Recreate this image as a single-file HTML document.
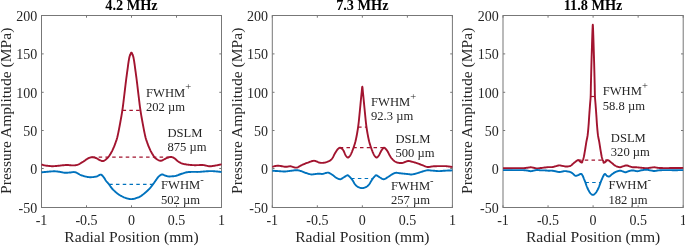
<!DOCTYPE html>
<html><head><meta charset="utf-8"><style>
html,body{margin:0;padding:0;background:#fff;width:685px;height:246px;overflow:hidden}
svg{display:block;will-change:transform}
text{font-family:"Liberation Serif",serif;fill:#262626}
.t{font-size:14px}
.l{font-size:15.6px}
.ti{font-size:14.3px;font-weight:bold;fill:#000}
.a{font-size:12.6px}
.s{font-size:10.5px}
</style></head><body>
<svg width="685" height="246" viewBox="0 0 685 246">
<rect width="685" height="246" fill="#fff"/>
<path d="M41.5,15.5h2.2M221.5,15.5h-2.2M41.5,53.9h2.2M221.5,53.9h-2.2M41.5,92.3h2.2M221.5,92.3h-2.2M41.5,130.5h2.2M221.5,130.5h-2.2M41.5,168.5h2.2M221.5,168.5h-2.2M41.5,207.5h2.2M221.5,207.5h-2.2M41.5,207.5v-2.2M41.5,15.5v2.2M86.5,207.5v-2.2M86.5,15.5v2.2M131.5,207.5v-2.2M131.5,15.5v2.2M176.5,207.5v-2.2M176.5,15.5v2.2M221.5,207.5v-2.2M221.5,15.5v2.2" stroke="#777777" stroke-width="1" fill="none"/>
<rect x="41.5" y="15.5" width="180" height="192" stroke="#777777" stroke-width="1" fill="none"/>
<text x="37.2" y="20.8" text-anchor="end" class="t">200</text>
<text x="37.2" y="59.2" text-anchor="end" class="t">150</text>
<text x="37.2" y="97.6" text-anchor="end" class="t">100</text>
<text x="37.2" y="135.8" text-anchor="end" class="t">50</text>
<text x="37.2" y="173.8" text-anchor="end" class="t">0</text>
<text x="37.2" y="212.8" text-anchor="end" class="t">-50</text>
<text x="41.5" y="225.2" text-anchor="middle" class="t">-1</text>
<text x="86.5" y="225.2" text-anchor="middle" class="t">-0.5</text>
<text x="131.5" y="225.2" text-anchor="middle" class="t">0</text>
<text x="176.5" y="225.2" text-anchor="middle" class="t">0.5</text>
<text x="221.5" y="225.2" text-anchor="middle" class="t">1</text>
<text x="131.5" y="242.3" text-anchor="middle" class="l">Radial Position (mm)</text>
<text transform="translate(10.9,110.8) rotate(-90)" text-anchor="middle" class="l">Pressure Amplitude (MPa)</text>
<text x="131.5" y="9.75" text-anchor="middle" class="ti">4.2 MHz</text>
<path d="M272.3,15.5h2.2M452.4,15.5h-2.2M272.3,53.9h2.2M452.4,53.9h-2.2M272.3,92.3h2.2M452.4,92.3h-2.2M272.3,130.5h2.2M452.4,130.5h-2.2M272.3,168.5h2.2M452.4,168.5h-2.2M272.3,207.5h2.2M452.4,207.5h-2.2M272.3,207.5v-2.2M272.3,15.5v2.2M317.33,207.5v-2.2M317.33,15.5v2.2M362.35,207.5v-2.2M362.35,15.5v2.2M407.38,207.5v-2.2M407.38,15.5v2.2M452.4,207.5v-2.2M452.4,15.5v2.2" stroke="#777777" stroke-width="1" fill="none"/>
<rect x="272.3" y="15.5" width="180.1" height="192" stroke="#777777" stroke-width="1" fill="none"/>
<text x="268" y="20.8" text-anchor="end" class="t">200</text>
<text x="268" y="59.2" text-anchor="end" class="t">150</text>
<text x="268" y="97.6" text-anchor="end" class="t">100</text>
<text x="268" y="135.8" text-anchor="end" class="t">50</text>
<text x="268" y="173.8" text-anchor="end" class="t">0</text>
<text x="268" y="212.8" text-anchor="end" class="t">-50</text>
<text x="272.3" y="225.2" text-anchor="middle" class="t">-1</text>
<text x="317.33" y="225.2" text-anchor="middle" class="t">-0.5</text>
<text x="362.35" y="225.2" text-anchor="middle" class="t">0</text>
<text x="407.38" y="225.2" text-anchor="middle" class="t">0.5</text>
<text x="452.4" y="225.2" text-anchor="middle" class="t">1</text>
<text x="362.35" y="242.3" text-anchor="middle" class="l">Radial Position (mm)</text>
<text transform="translate(241.7,110.8) rotate(-90)" text-anchor="middle" class="l">Pressure Amplitude (MPa)</text>
<text x="362.35" y="9.75" text-anchor="middle" class="ti">7.3 MHz</text>
<path d="M503,15.5h2.2M683.2,15.5h-2.2M503,53.9h2.2M683.2,53.9h-2.2M503,92.3h2.2M683.2,92.3h-2.2M503,130.5h2.2M683.2,130.5h-2.2M503,168.5h2.2M683.2,168.5h-2.2M503,207.5h2.2M683.2,207.5h-2.2M503,207.5v-2.2M503,15.5v2.2M548.05,207.5v-2.2M548.05,15.5v2.2M593.1,207.5v-2.2M593.1,15.5v2.2M638.15,207.5v-2.2M638.15,15.5v2.2M683.2,207.5v-2.2M683.2,15.5v2.2" stroke="#777777" stroke-width="1" fill="none"/>
<rect x="503" y="15.5" width="180.2" height="192" stroke="#777777" stroke-width="1" fill="none"/>
<text x="498.7" y="20.8" text-anchor="end" class="t">200</text>
<text x="498.7" y="59.2" text-anchor="end" class="t">150</text>
<text x="498.7" y="97.6" text-anchor="end" class="t">100</text>
<text x="498.7" y="135.8" text-anchor="end" class="t">50</text>
<text x="498.7" y="173.8" text-anchor="end" class="t">0</text>
<text x="498.7" y="212.8" text-anchor="end" class="t">-50</text>
<text x="503" y="225.2" text-anchor="middle" class="t">-1</text>
<text x="548.05" y="225.2" text-anchor="middle" class="t">-0.5</text>
<text x="593.1" y="225.2" text-anchor="middle" class="t">0</text>
<text x="638.15" y="225.2" text-anchor="middle" class="t">0.5</text>
<text x="683.2" y="225.2" text-anchor="middle" class="t">1</text>
<text x="593.1" y="242.3" text-anchor="middle" class="l">Radial Position (mm)</text>
<text transform="translate(472.4,110.8) rotate(-90)" text-anchor="middle" class="l">Pressure Amplitude (MPa)</text>
<text x="593.1" y="9.75" text-anchor="middle" class="ti">11.8 MHz</text>
<path d="M41.50,164.60 L41.83,164.68 L42.26,164.79 L42.77,164.92 L43.35,165.06 L43.98,165.21 L44.64,165.35 L45.32,165.49 L46.00,165.60 L46.71,165.70 L47.46,165.80 L48.25,165.90 L49.07,165.99 L49.90,166.07 L50.74,166.14 L51.58,166.18 L52.40,166.20 L53.21,166.19 L54.01,166.16 L54.82,166.10 L55.63,166.03 L56.45,165.95 L57.28,165.86 L58.13,165.78 L59.00,165.70 L59.90,165.61 L60.84,165.51 L61.79,165.40 L62.76,165.29 L63.72,165.19 L64.67,165.10 L65.60,165.04 L66.50,165.00 L67.37,165.01 L68.23,165.05 L69.08,165.12 L69.91,165.21 L70.72,165.29 L71.51,165.36 L72.27,165.40 L73.00,165.40 L73.69,165.37 L74.34,165.33 L74.95,165.27 L75.55,165.19 L76.13,165.09 L76.71,164.96 L77.30,164.80 L77.90,164.60 L78.51,164.36 L79.13,164.07 L79.74,163.75 L80.36,163.40 L80.97,163.03 L81.58,162.65 L82.19,162.27 L82.80,161.90 L83.41,161.51 L84.03,161.09 L84.66,160.66 L85.27,160.22 L85.88,159.79 L86.48,159.39 L87.05,159.02 L87.60,158.70 L88.11,158.42 L88.58,158.17 L89.03,157.95 L89.47,157.76 L89.90,157.59 L90.34,157.46 L90.81,157.36 L91.30,157.30 L91.83,157.28 L92.38,157.29 L92.95,157.35 L93.53,157.43 L94.11,157.54 L94.69,157.68 L95.26,157.83 L95.80,158.00 L96.33,158.20 L96.85,158.45 L97.36,158.74 L97.87,159.04 L98.37,159.34 L98.85,159.63 L99.33,159.89 L99.80,160.10 L100.25,160.30 L100.68,160.50 L101.09,160.69 L101.49,160.86 L101.90,160.99 L102.31,161.06 L102.75,161.07 L103.20,161.00 L103.69,160.84 L104.20,160.59 L104.73,160.28 L105.27,159.92 L105.80,159.52 L106.33,159.09 L106.83,158.64 L107.30,158.20 L107.74,157.75 L108.15,157.27 L108.55,156.78 L108.93,156.26 L109.30,155.72 L109.67,155.16 L110.03,154.59 L110.40,154.00 L110.77,153.40 L111.13,152.78 L111.49,152.14 L111.84,151.49 L112.19,150.82 L112.53,150.13 L112.87,149.42 L113.20,148.70 L113.53,147.95 L113.86,147.17 L114.19,146.38 L114.51,145.56 L114.82,144.74 L115.12,143.92 L115.42,143.10 L115.70,142.30 L115.96,141.54 L116.21,140.83 L116.44,140.14 L116.67,139.44 L116.89,138.70 L117.12,137.90 L117.35,137.01 L117.60,136.00 L117.86,134.88 L118.12,133.67 L118.39,132.40 L118.66,131.04 L118.93,129.62 L119.21,128.14 L119.50,126.60 L119.80,125.00 L120.11,123.32 L120.44,121.53 L120.78,119.67 L121.12,117.75 L121.46,115.80 L121.79,113.84 L122.11,111.90 L122.40,110.00 L122.67,108.12 L122.93,106.25 L123.17,104.38 L123.40,102.50 L123.63,100.62 L123.85,98.75 L124.07,96.88 L124.30,95.00 L124.53,93.09 L124.77,91.13 L125.00,89.16 L125.23,87.19 L125.46,85.26 L125.68,83.40 L125.90,81.64 L126.10,80.00 L126.29,78.50 L126.48,77.10 L126.65,75.80 L126.82,74.56 L126.98,73.38 L127.14,72.24 L127.30,71.12 L127.45,70.00 L127.60,68.88 L127.75,67.79 L127.89,66.72 L128.03,65.69 L128.16,64.69 L128.29,63.74 L128.42,62.84 L128.55,62.00 L128.67,61.21 L128.79,60.48 L128.90,59.80 L129.01,59.16 L129.12,58.56 L129.23,58.00 L129.34,57.48 L129.45,57.00 L129.56,56.56 L129.67,56.19 L129.78,55.85 L129.89,55.56 L130.00,55.28 L130.11,55.02 L130.23,54.77 L130.35,54.50 L130.47,54.21 L130.60,53.89 L130.73,53.58 L130.87,53.28 L131.00,53.01 L131.13,52.79 L131.27,52.65 L131.40,52.60 L131.53,52.65 L131.67,52.79 L131.80,53.01 L131.93,53.28 L132.07,53.58 L132.20,53.89 L132.33,54.21 L132.45,54.50 L132.57,54.77 L132.69,55.02 L132.80,55.28 L132.91,55.56 L133.02,55.85 L133.13,56.19 L133.24,56.56 L133.35,57.00 L133.46,57.48 L133.57,58.00 L133.68,58.56 L133.79,59.16 L133.90,59.80 L134.01,60.48 L134.13,61.21 L134.25,62.00 L134.38,62.84 L134.51,63.74 L134.64,64.69 L134.77,65.69 L134.91,66.72 L135.05,67.79 L135.20,68.88 L135.35,70.00 L135.50,71.12 L135.66,72.24 L135.82,73.38 L135.98,74.56 L136.15,75.80 L136.33,77.10 L136.51,78.50 L136.70,80.00 L136.90,81.64 L137.12,83.40 L137.34,85.26 L137.57,87.19 L137.80,89.16 L138.03,91.13 L138.27,93.09 L138.50,95.00 L138.73,96.88 L138.95,98.75 L139.17,100.62 L139.40,102.50 L139.63,104.38 L139.87,106.25 L140.13,108.12 L140.40,110.00 L140.69,111.90 L141.01,113.84 L141.34,115.80 L141.68,117.75 L142.02,119.67 L142.36,121.53 L142.69,123.32 L143.00,125.00 L143.30,126.60 L143.59,128.14 L143.87,129.62 L144.14,131.04 L144.41,132.40 L144.68,133.67 L144.94,134.88 L145.20,136.00 L145.45,137.01 L145.68,137.90 L145.91,138.70 L146.13,139.44 L146.36,140.14 L146.59,140.83 L146.84,141.54 L147.10,142.30 L147.38,143.10 L147.68,143.92 L147.98,144.74 L148.29,145.56 L148.61,146.38 L148.94,147.18 L149.27,147.95 L149.60,148.70 L149.93,149.42 L150.27,150.13 L150.61,150.82 L150.96,151.49 L151.31,152.14 L151.67,152.78 L152.03,153.40 L152.40,154.00 L152.76,154.59 L153.12,155.17 L153.48,155.73 L153.84,156.28 L154.22,156.80 L154.62,157.30 L155.04,157.76 L155.50,158.20 L156.01,158.62 L156.57,159.02 L157.16,159.40 L157.77,159.75 L158.38,160.06 L158.96,160.33 L159.51,160.55 L160.00,160.70 L160.43,160.78 L160.81,160.79 L161.16,160.75 L161.48,160.66 L161.80,160.54 L162.11,160.40 L162.44,160.25 L162.80,160.10 L163.17,159.94 L163.54,159.75 L163.92,159.53 L164.30,159.30 L164.69,159.06 L165.11,158.83 L165.54,158.61 L166.00,158.40 L166.50,158.19 L167.04,157.98 L167.61,157.75 L168.19,157.54 L168.77,157.34 L169.34,157.18 L169.89,157.06 L170.40,157.00 L170.87,156.99 L171.30,157.00 L171.71,157.06 L172.11,157.15 L172.51,157.28 L172.92,157.45 L173.34,157.65 L173.80,157.90 L174.29,158.21 L174.81,158.61 L175.35,159.05 L175.89,159.53 L176.44,160.02 L176.98,160.49 L177.50,160.92 L178.00,161.30 L178.47,161.62 L178.91,161.92 L179.35,162.20 L179.77,162.45 L180.19,162.68 L180.61,162.90 L181.05,163.11 L181.50,163.30 L181.96,163.48 L182.43,163.63 L182.90,163.77 L183.38,163.89 L183.87,164.00 L184.37,164.10 L184.88,164.20 L185.40,164.30 L185.94,164.40 L186.49,164.49 L187.05,164.57 L187.63,164.64 L188.21,164.71 L188.80,164.78 L189.40,164.84 L190.00,164.90 L190.60,164.96 L191.19,165.01 L191.78,165.06 L192.38,165.10 L193.00,165.14 L193.66,165.17 L194.35,165.19 L195.10,165.20 L195.93,165.19 L196.86,165.17 L197.84,165.13 L198.84,165.08 L199.84,165.04 L200.78,165.01 L201.65,164.99 L202.40,165.00 L203.03,165.04 L203.56,165.09 L204.01,165.16 L204.42,165.24 L204.80,165.33 L205.17,165.42 L205.57,165.51 L206.00,165.60 L206.46,165.69 L206.93,165.80 L207.39,165.91 L207.86,166.02 L208.34,166.12 L208.82,166.21 L209.30,166.27 L209.80,166.30 L210.31,166.30 L210.82,166.27 L211.34,166.21 L211.87,166.14 L212.40,166.06 L212.93,165.97 L213.47,165.89 L214.00,165.80 L214.54,165.71 L215.09,165.62 L215.65,165.52 L216.21,165.41 L216.76,165.31 L217.30,165.20 L217.81,165.10 L218.30,165.00 L218.77,164.90 L219.25,164.80 L219.72,164.70 L220.17,164.60 L220.58,164.51 L220.95,164.42 L221.26,164.35 L221.50,164.30" stroke="#A2142F" stroke-width="1.9" fill="none" stroke-linejoin="round"/>
<path d="M41.50,172.30 L42.00,172.25 L42.66,172.19 L43.44,172.11 L44.31,172.03 L45.24,171.94 L46.19,171.85 L47.12,171.77 L48.00,171.70 L48.86,171.63 L49.76,171.56 L50.68,171.49 L51.59,171.42 L52.50,171.37 L53.38,171.32 L54.22,171.30 L55.00,171.30 L55.72,171.33 L56.39,171.37 L57.02,171.44 L57.62,171.52 L58.21,171.61 L58.80,171.71 L59.39,171.80 L60.00,171.90 L60.62,172.01 L61.25,172.13 L61.88,172.27 L62.50,172.41 L63.12,172.54 L63.75,172.65 L64.38,172.74 L65.00,172.80 L65.62,172.82 L66.25,172.81 L66.87,172.78 L67.49,172.73 L68.12,172.67 L68.74,172.60 L69.37,172.55 L70.00,172.50 L70.63,172.44 L71.27,172.36 L71.90,172.26 L72.54,172.17 L73.18,172.10 L73.82,172.07 L74.46,172.10 L75.10,172.20 L75.75,172.39 L76.40,172.67 L77.06,173.01 L77.72,173.38 L78.38,173.77 L79.03,174.15 L79.67,174.50 L80.30,174.80 L80.91,175.05 L81.49,175.29 L82.07,175.51 L82.64,175.71 L83.21,175.90 L83.79,176.08 L84.38,176.25 L85.00,176.40 L85.64,176.55 L86.28,176.69 L86.94,176.82 L87.61,176.94 L88.29,177.05 L88.98,177.12 L89.69,177.18 L90.40,177.20 L91.14,177.19 L91.92,177.16 L92.72,177.10 L93.53,177.02 L94.32,176.92 L95.09,176.79 L95.82,176.66 L96.50,176.50 L97.13,176.29 L97.72,176.01 L98.28,175.69 L98.81,175.36 L99.31,175.05 L99.79,174.80 L100.25,174.64 L100.70,174.60 L101.12,174.68 L101.51,174.86 L101.87,175.12 L102.21,175.44 L102.53,175.81 L102.85,176.20 L103.17,176.60 L103.50,177.00 L103.82,177.41 L104.14,177.86 L104.44,178.34 L104.74,178.84 L105.05,179.34 L105.35,179.85 L105.67,180.33 L106.00,180.80 L106.34,181.24 L106.69,181.66 L107.05,182.06 L107.41,182.47 L107.78,182.88 L108.15,183.30 L108.53,183.73 L108.90,184.20 L109.27,184.70 L109.63,185.22 L110.00,185.76 L110.36,186.31 L110.74,186.86 L111.14,187.42 L111.55,187.97 L112.00,188.50 L112.48,189.03 L113.00,189.57 L113.55,190.11 L114.11,190.65 L114.68,191.17 L115.24,191.68 L115.78,192.16 L116.30,192.60 L116.79,193.01 L117.25,193.39 L117.70,193.74 L118.14,194.07 L118.59,194.39 L119.04,194.69 L119.51,195.00 L120.00,195.30 L120.52,195.61 L121.07,195.91 L121.63,196.21 L122.21,196.49 L122.78,196.77 L123.34,197.03 L123.88,197.28 L124.40,197.50 L124.89,197.70 L125.37,197.89 L125.84,198.06 L126.29,198.21 L126.74,198.35 L127.17,198.48 L127.59,198.60 L128.00,198.70 L128.39,198.79 L128.77,198.87 L129.13,198.94 L129.48,198.99 L129.83,199.04 L130.18,199.07 L130.53,199.09 L130.90,199.10 L131.28,199.10 L131.66,199.09 L132.05,199.07 L132.44,199.04 L132.84,198.99 L133.23,198.94 L133.62,198.88 L134.00,198.80 L134.38,198.71 L134.76,198.60 L135.14,198.48 L135.51,198.35 L135.89,198.21 L136.26,198.07 L136.63,197.93 L137.00,197.80 L137.36,197.68 L137.70,197.58 L138.04,197.48 L138.38,197.38 L138.73,197.26 L139.09,197.11 L139.48,196.93 L139.90,196.70 L140.35,196.42 L140.83,196.10 L141.34,195.75 L141.86,195.37 L142.39,194.97 L142.93,194.56 L143.46,194.13 L144.00,193.70 L144.55,193.25 L145.12,192.76 L145.71,192.26 L146.29,191.74 L146.87,191.23 L147.42,190.73 L147.93,190.25 L148.40,189.80 L148.81,189.39 L149.19,189.00 L149.52,188.64 L149.84,188.29 L150.13,187.94 L150.42,187.60 L150.71,187.26 L151.00,186.90 L151.29,186.54 L151.58,186.18 L151.85,185.83 L152.12,185.47 L152.39,185.11 L152.65,184.75 L152.92,184.38 L153.20,184.00 L153.48,183.62 L153.76,183.23 L154.05,182.84 L154.33,182.44 L154.62,182.04 L154.91,181.63 L155.20,181.22 L155.50,180.80 L155.80,180.37 L156.12,179.91 L156.44,179.44 L156.76,178.98 L157.08,178.52 L157.39,178.08 L157.70,177.67 L158.00,177.30 L158.29,176.97 L158.57,176.67 L158.85,176.39 L159.12,176.14 L159.40,175.90 L159.66,175.69 L159.93,175.49 L160.20,175.30 L160.46,175.12 L160.72,174.95 L160.97,174.79 L161.22,174.66 L161.47,174.54 L161.74,174.46 L162.01,174.41 L162.30,174.40 L162.60,174.44 L162.92,174.54 L163.24,174.67 L163.57,174.84 L163.92,175.01 L164.27,175.19 L164.63,175.36 L165.00,175.50 L165.38,175.63 L165.77,175.76 L166.18,175.90 L166.59,176.02 L167.01,176.14 L167.43,176.25 L167.86,176.34 L168.30,176.40 L168.74,176.44 L169.20,176.45 L169.66,176.45 L170.13,176.43 L170.60,176.40 L171.07,176.37 L171.54,176.33 L172.00,176.30 L172.44,176.27 L172.86,176.26 L173.28,176.24 L173.69,176.21 L174.12,176.17 L174.58,176.11 L175.06,176.02 L175.60,175.90 L176.19,175.73 L176.82,175.53 L177.48,175.29 L178.18,175.03 L178.88,174.76 L179.59,174.50 L180.30,174.24 L181.00,174.00 L181.69,173.77 L182.39,173.53 L183.09,173.29 L183.80,173.06 L184.51,172.83 L185.21,172.63 L185.91,172.45 L186.60,172.30 L187.28,172.19 L187.93,172.10 L188.58,172.04 L189.22,171.99 L189.88,171.96 L190.56,171.94 L191.26,171.92 L192.00,171.90 L192.79,171.88 L193.62,171.88 L194.47,171.89 L195.35,171.91 L196.23,171.92 L197.11,171.93 L197.97,171.92 L198.80,171.90 L199.61,171.86 L200.40,171.81 L201.18,171.74 L201.95,171.67 L202.72,171.59 L203.48,171.52 L204.24,171.46 L205.00,171.40 L205.77,171.35 L206.54,171.30 L207.31,171.25 L208.07,171.20 L208.83,171.16 L209.58,171.13 L210.30,171.11 L211.00,171.10 L211.67,171.11 L212.31,171.13 L212.93,171.16 L213.53,171.19 L214.13,171.24 L214.74,171.29 L215.36,171.34 L216.00,171.40 L216.70,171.46 L217.47,171.54 L218.27,171.63 L219.06,171.72 L219.82,171.81 L220.50,171.89 L221.07,171.95 L221.50,172.00" stroke="#0072BD" stroke-width="1.9" fill="none" stroke-linejoin="round"/>
<path d="M272.30,166.80 L272.72,166.70 L273.25,166.55 L273.89,166.37 L274.61,166.18 L275.39,166.00 L276.21,165.85 L277.06,165.74 L277.90,165.70 L278.79,165.74 L279.77,165.86 L280.80,166.02 L281.85,166.21 L282.90,166.41 L283.91,166.59 L284.85,166.72 L285.70,166.80 L286.44,166.80 L287.09,166.75 L287.67,166.65 L288.22,166.54 L288.75,166.43 L289.29,166.34 L289.87,166.29 L290.50,166.30 L291.19,166.40 L291.92,166.58 L292.68,166.81 L293.44,167.06 L294.21,167.30 L294.97,167.49 L295.70,167.60 L296.40,167.60 L297.05,167.49 L297.67,167.28 L298.27,167.01 L298.86,166.68 L299.44,166.33 L300.04,165.97 L300.65,165.62 L301.30,165.30 L301.97,165.00 L302.66,164.70 L303.36,164.39 L304.07,164.09 L304.80,163.78 L305.55,163.48 L306.32,163.19 L307.10,162.90 L307.92,162.60 L308.77,162.26 L309.66,161.91 L310.55,161.58 L311.44,161.28 L312.33,161.04 L313.18,160.87 L314.00,160.80 L314.79,160.86 L315.55,161.04 L316.30,161.31 L317.04,161.62 L317.75,161.96 L318.45,162.27 L319.14,162.53 L319.80,162.70 L320.44,162.79 L321.05,162.85 L321.63,162.88 L322.21,162.87 L322.77,162.84 L323.34,162.78 L323.91,162.70 L324.50,162.60 L325.12,162.47 L325.76,162.31 L326.41,162.12 L327.06,161.91 L327.70,161.67 L328.31,161.43 L328.88,161.17 L329.40,160.90 L329.86,160.63 L330.27,160.37 L330.64,160.10 L330.99,159.81 L331.32,159.49 L331.64,159.14 L331.96,158.75 L332.30,158.30 L332.65,157.78 L332.99,157.19 L333.34,156.55 L333.68,155.88 L334.01,155.19 L334.34,154.52 L334.67,153.88 L335.00,153.30 L335.32,152.75 L335.65,152.22 L335.97,151.69 L336.28,151.19 L336.59,150.72 L336.90,150.27 L337.20,149.87 L337.50,149.50 L337.79,149.17 L338.07,148.87 L338.35,148.60 L338.62,148.36 L338.90,148.16 L339.16,148.00 L339.43,147.88 L339.70,147.80 L339.97,147.77 L340.24,147.79 L340.51,147.86 L340.77,147.96 L341.04,148.09 L341.30,148.24 L341.55,148.42 L341.80,148.60 L342.04,148.79 L342.27,149.00 L342.49,149.23 L342.71,149.47 L342.92,149.75 L343.14,150.06 L343.37,150.41 L343.60,150.80 L343.84,151.26 L344.08,151.79 L344.33,152.38 L344.58,152.99 L344.83,153.61 L345.09,154.20 L345.34,154.74 L345.60,155.20 L345.86,155.61 L346.13,156.00 L346.40,156.36 L346.68,156.68 L346.94,156.96 L347.21,157.20 L347.46,157.38 L347.70,157.50 L347.92,157.55 L348.13,157.54 L348.33,157.48 L348.52,157.37 L348.71,157.22 L348.90,157.03 L349.09,156.83 L349.30,156.60 L349.51,156.36 L349.72,156.12 L349.93,155.84 L350.14,155.54 L350.36,155.19 L350.60,154.79 L350.84,154.33 L351.10,153.80 L351.38,153.19 L351.68,152.51 L352.00,151.77 L352.32,150.98 L352.65,150.14 L352.97,149.28 L353.29,148.39 L353.60,147.50 L353.90,146.61 L354.19,145.72 L354.48,144.81 L354.77,143.88 L355.05,142.89 L355.34,141.84 L355.62,140.72 L355.90,139.50 L356.19,138.17 L356.48,136.73 L356.77,135.20 L357.06,133.61 L357.34,131.99 L357.61,130.37 L357.87,128.76 L358.10,127.20 L358.31,125.69 L358.49,124.21 L358.66,122.74 L358.82,121.27 L358.97,119.78 L359.13,118.24 L359.28,116.66 L359.45,115.00 L359.63,113.21 L359.82,111.28 L360.01,109.27 L360.21,107.24 L360.40,105.24 L360.58,103.32 L360.75,101.56 L360.90,100.00 L361.03,98.65 L361.15,97.44 L361.26,96.37 L361.35,95.39 L361.44,94.49 L361.53,93.65 L361.61,92.82 L361.70,92.00 L361.78,91.14 L361.86,90.24 L361.94,89.35 L362.01,88.52 L362.08,87.79 L362.15,87.22 L362.23,86.84 L362.30,86.70 L362.37,86.84 L362.45,87.22 L362.52,87.79 L362.59,88.52 L362.66,89.35 L362.74,90.24 L362.82,91.14 L362.90,92.00 L362.99,92.82 L363.07,93.65 L363.16,94.49 L363.25,95.39 L363.34,96.37 L363.45,97.44 L363.57,98.65 L363.70,100.00 L363.85,101.56 L364.02,103.32 L364.20,105.24 L364.39,107.24 L364.59,109.27 L364.78,111.28 L364.97,113.21 L365.15,115.00 L365.32,116.66 L365.47,118.24 L365.63,119.78 L365.78,121.27 L365.94,122.74 L366.11,124.21 L366.29,125.69 L366.50,127.20 L366.73,128.76 L366.99,130.37 L367.26,131.99 L367.54,133.61 L367.83,135.20 L368.12,136.72 L368.41,138.17 L368.70,139.50 L368.98,140.72 L369.26,141.84 L369.55,142.89 L369.83,143.87 L370.12,144.81 L370.41,145.72 L370.70,146.61 L371.00,147.50 L371.31,148.39 L371.63,149.28 L371.95,150.14 L372.28,150.97 L372.60,151.77 L372.92,152.51 L373.22,153.19 L373.50,153.80 L373.76,154.33 L374.00,154.79 L374.24,155.19 L374.46,155.54 L374.67,155.84 L374.88,156.12 L375.09,156.36 L375.30,156.60 L375.51,156.83 L375.70,157.03 L375.89,157.22 L376.08,157.37 L376.27,157.48 L376.47,157.54 L376.68,157.55 L376.90,157.50 L377.14,157.38 L377.38,157.20 L377.64,156.97 L377.90,156.69 L378.17,156.37 L378.44,156.01 L378.72,155.62 L379.00,155.20 L379.29,154.72 L379.58,154.17 L379.88,153.56 L380.18,152.93 L380.49,152.29 L380.79,151.68 L381.10,151.10 L381.40,150.60 L381.70,150.14 L382.01,149.68 L382.32,149.24 L382.62,148.84 L382.93,148.48 L383.23,148.18 L383.52,147.95 L383.80,147.80 L384.07,147.75 L384.33,147.79 L384.58,147.90 L384.83,148.06 L385.07,148.27 L385.32,148.51 L385.56,148.76 L385.80,149.00 L386.04,149.25 L386.28,149.53 L386.52,149.83 L386.76,150.15 L386.99,150.49 L387.23,150.85 L387.46,151.22 L387.70,151.60 L387.94,152.01 L388.17,152.44 L388.41,152.90 L388.64,153.37 L388.88,153.84 L389.12,154.31 L389.36,154.77 L389.60,155.20 L389.84,155.61 L390.06,156.01 L390.28,156.39 L390.51,156.78 L390.74,157.15 L391.00,157.53 L391.28,157.91 L391.60,158.30 L391.96,158.71 L392.35,159.14 L392.77,159.58 L393.21,160.01 L393.66,160.43 L394.11,160.83 L394.56,161.19 L395.00,161.50 L395.43,161.76 L395.86,161.98 L396.30,162.18 L396.73,162.34 L397.17,162.48 L397.61,162.60 L398.05,162.70 L398.50,162.80 L398.96,162.89 L399.43,162.96 L399.91,163.01 L400.39,163.04 L400.87,163.06 L401.33,163.06 L401.78,163.04 L402.20,163.00 L402.59,162.93 L402.95,162.83 L403.29,162.71 L403.62,162.57 L403.95,162.43 L404.29,162.28 L404.63,162.13 L405.00,162.00 L405.39,161.86 L405.79,161.71 L406.21,161.55 L406.62,161.40 L407.05,161.26 L407.47,161.14 L407.89,161.05 L408.30,161.00 L408.70,161.00 L409.09,161.03 L409.48,161.09 L409.86,161.17 L410.25,161.27 L410.65,161.38 L411.07,161.49 L411.50,161.60 L411.94,161.71 L412.37,161.82 L412.81,161.93 L413.27,162.06 L413.75,162.19 L414.25,162.34 L414.80,162.51 L415.40,162.70 L416.06,162.91 L416.77,163.15 L417.53,163.41 L418.31,163.68 L419.12,163.96 L419.92,164.24 L420.72,164.53 L421.50,164.80 L422.26,165.09 L423.02,165.41 L423.79,165.75 L424.55,166.07 L425.31,166.38 L426.07,166.65 L426.84,166.86 L427.60,167.00 L428.33,167.05 L429.03,167.02 L429.71,166.93 L430.39,166.80 L431.11,166.65 L431.89,166.51 L432.74,166.38 L433.70,166.30 L434.82,166.25 L436.10,166.20 L437.49,166.17 L438.93,166.14 L440.34,166.12 L441.68,166.10 L442.89,166.10 L443.90,166.10 L444.70,166.11 L445.35,166.13 L445.87,166.16 L446.31,166.20 L446.71,166.24 L447.10,166.29 L447.51,166.34 L448.00,166.40 L448.57,166.46 L449.18,166.54 L449.82,166.63 L450.46,166.72 L451.06,166.81 L451.60,166.89 L452.06,166.95 L452.40,167.00" stroke="#A2142F" stroke-width="1.9" fill="none" stroke-linejoin="round"/>
<path d="M272.30,170.70 L272.73,170.73 L273.30,170.77 L273.98,170.82 L274.73,170.87 L275.54,170.93 L276.37,170.99 L277.20,171.05 L278.00,171.10 L278.80,171.16 L279.64,171.22 L280.50,171.29 L281.38,171.36 L282.25,171.42 L283.10,171.47 L283.92,171.50 L284.70,171.50 L285.42,171.47 L286.10,171.42 L286.74,171.35 L287.37,171.27 L287.99,171.18 L288.63,171.08 L289.29,170.99 L290.00,170.90 L290.76,170.81 L291.56,170.69 L292.39,170.57 L293.22,170.45 L294.06,170.34 L294.88,170.26 L295.66,170.21 L296.40,170.20 L297.09,170.24 L297.74,170.31 L298.36,170.42 L298.96,170.54 L299.54,170.69 L300.12,170.85 L300.71,171.03 L301.30,171.20 L301.90,171.39 L302.48,171.60 L303.06,171.83 L303.64,172.07 L304.22,172.32 L304.81,172.56 L305.40,172.79 L306.00,173.00 L306.62,173.21 L307.25,173.42 L307.90,173.63 L308.54,173.83 L309.19,174.02 L309.81,174.18 L310.42,174.31 L311.00,174.40 L311.55,174.44 L312.08,174.45 L312.58,174.42 L313.07,174.36 L313.56,174.29 L314.04,174.22 L314.52,174.15 L315.00,174.10 L315.48,174.05 L315.96,173.99 L316.44,173.93 L316.91,173.87 L317.38,173.81 L317.85,173.76 L318.32,173.72 L318.80,173.70 L319.28,173.71 L319.74,173.74 L320.21,173.80 L320.68,173.86 L321.16,173.91 L321.65,173.94 L322.16,173.94 L322.70,173.90 L323.28,173.79 L323.91,173.63 L324.57,173.43 L325.24,173.21 L325.90,173.00 L326.53,172.81 L327.10,172.67 L327.60,172.60 L328.02,172.59 L328.36,172.63 L328.66,172.70 L328.92,172.80 L329.17,172.93 L329.42,173.07 L329.69,173.23 L330.00,173.40 L330.34,173.58 L330.70,173.78 L331.06,174.00 L331.43,174.24 L331.81,174.49 L332.20,174.75 L332.60,175.02 L333.00,175.30 L333.41,175.60 L333.83,175.93 L334.26,176.28 L334.69,176.64 L335.14,176.99 L335.59,177.33 L336.04,177.63 L336.50,177.90 L336.97,178.15 L337.45,178.39 L337.95,178.63 L338.44,178.84 L338.94,179.01 L339.44,179.14 L339.92,179.20 L340.40,179.20 L340.87,179.11 L341.32,178.93 L341.78,178.69 L342.22,178.40 L342.67,178.09 L343.11,177.77 L343.56,177.47 L344.00,177.20 L344.45,176.94 L344.92,176.64 L345.39,176.34 L345.86,176.04 L346.31,175.77 L346.74,175.55 L347.14,175.38 L347.50,175.30 L347.82,175.31 L348.09,175.39 L348.34,175.54 L348.56,175.73 L348.77,175.94 L348.98,176.17 L349.18,176.40 L349.40,176.60 L349.62,176.79 L349.83,176.97 L350.04,177.16 L350.25,177.36 L350.46,177.57 L350.67,177.80 L350.88,178.04 L351.10,178.30 L351.33,178.59 L351.56,178.90 L351.80,179.23 L352.04,179.57 L352.29,179.92 L352.53,180.28 L352.77,180.64 L353.00,181.00 L353.23,181.37 L353.45,181.75 L353.66,182.13 L353.88,182.53 L354.10,182.91 L354.32,183.29 L354.56,183.66 L354.80,184.00 L355.05,184.33 L355.31,184.65 L355.58,184.96 L355.86,185.26 L356.14,185.54 L356.42,185.81 L356.71,186.07 L357.00,186.30 L357.30,186.52 L357.60,186.71 L357.91,186.90 L358.23,187.06 L358.54,187.22 L358.86,187.35 L359.18,187.48 L359.50,187.60 L359.82,187.71 L360.14,187.80 L360.47,187.89 L360.79,187.96 L361.12,188.02 L361.45,188.06 L361.77,188.09 L362.10,188.10 L362.43,188.09 L362.75,188.06 L363.08,188.02 L363.41,187.96 L363.73,187.89 L364.06,187.80 L364.38,187.71 L364.70,187.60 L365.02,187.48 L365.34,187.35 L365.66,187.22 L365.97,187.06 L366.29,186.90 L366.60,186.71 L366.90,186.52 L367.20,186.30 L367.49,186.07 L367.78,185.81 L368.06,185.54 L368.34,185.26 L368.62,184.96 L368.89,184.65 L369.15,184.33 L369.40,184.00 L369.64,183.66 L369.88,183.29 L370.10,182.91 L370.32,182.53 L370.54,182.13 L370.76,181.75 L370.98,181.37 L371.20,181.00 L371.43,180.64 L371.65,180.29 L371.88,179.93 L372.11,179.58 L372.33,179.24 L372.56,178.91 L372.78,178.60 L373.00,178.30 L373.22,178.02 L373.43,177.75 L373.65,177.49 L373.86,177.25 L374.07,177.02 L374.28,176.80 L374.49,176.59 L374.70,176.40 L374.89,176.20 L375.06,175.99 L375.22,175.78 L375.37,175.59 L375.55,175.44 L375.75,175.32 L376.00,175.27 L376.30,175.30 L376.66,175.42 L377.08,175.63 L377.53,175.91 L378.01,176.23 L378.51,176.57 L379.02,176.91 L379.52,177.23 L380.00,177.50 L380.47,177.76 L380.93,178.05 L381.40,178.35 L381.87,178.62 L382.34,178.87 L382.82,179.06 L383.31,179.18 L383.80,179.20 L384.31,179.11 L384.85,178.92 L385.40,178.65 L385.95,178.33 L386.50,177.98 L387.03,177.63 L387.53,177.29 L388.00,177.00 L388.44,176.74 L388.85,176.47 L389.23,176.21 L389.61,175.95 L389.96,175.70 L390.31,175.45 L390.66,175.22 L391.00,175.00 L391.34,174.79 L391.66,174.59 L391.97,174.40 L392.28,174.22 L392.58,174.05 L392.89,173.89 L393.19,173.74 L393.50,173.60 L393.81,173.46 L394.10,173.33 L394.39,173.20 L394.69,173.09 L394.99,172.99 L395.30,172.90 L395.64,172.84 L396.00,172.80 L396.39,172.79 L396.80,172.82 L397.23,172.86 L397.68,172.93 L398.13,173.00 L398.59,173.07 L399.05,173.14 L399.50,173.20 L399.95,173.25 L400.39,173.30 L400.82,173.35 L401.27,173.39 L401.72,173.44 L402.19,173.49 L402.68,173.55 L403.20,173.60 L403.75,173.66 L404.33,173.72 L404.94,173.79 L405.56,173.86 L406.19,173.92 L406.81,173.99 L407.42,174.05 L408.00,174.10 L408.55,174.16 L409.07,174.23 L409.57,174.31 L410.07,174.38 L410.58,174.44 L411.11,174.46 L411.68,174.45 L412.30,174.40 L412.96,174.30 L413.65,174.15 L414.36,173.97 L415.11,173.77 L415.88,173.54 L416.69,173.30 L417.52,173.05 L418.40,172.80 L419.34,172.52 L420.37,172.20 L421.44,171.84 L422.54,171.49 L423.64,171.14 L424.70,170.84 L425.69,170.58 L426.60,170.40 L427.40,170.30 L428.11,170.26 L428.77,170.27 L429.39,170.32 L430.00,170.39 L430.62,170.47 L431.28,170.54 L432.00,170.60 L432.79,170.65 L433.62,170.72 L434.47,170.81 L435.35,170.89 L436.23,170.97 L437.11,171.03 L437.97,171.08 L438.80,171.10 L439.60,171.09 L440.36,171.06 L441.12,171.01 L441.86,170.95 L442.61,170.88 L443.38,170.81 L444.17,170.75 L445.00,170.70 L445.92,170.66 L446.94,170.61 L448.01,170.57 L449.09,170.52 L450.11,170.49 L451.04,170.45 L451.82,170.42 L452.40,170.40" stroke="#0072BD" stroke-width="1.9" fill="none" stroke-linejoin="round"/>
<path d="M503.00,168.20 L503.53,168.20 L504.23,168.20 L505.07,168.20 L506.00,168.21 L506.99,168.21 L508.02,168.21 L509.03,168.20 L510.00,168.20 L510.97,168.19 L511.98,168.18 L513.01,168.17 L514.06,168.15 L515.10,168.13 L516.12,168.12 L517.09,168.11 L518.00,168.10 L518.86,168.10 L519.70,168.10 L520.51,168.11 L521.28,168.12 L522.02,168.12 L522.72,168.13 L523.38,168.12 L524.00,168.10 L524.56,168.07 L525.06,168.03 L525.51,167.98 L525.93,167.92 L526.32,167.87 L526.70,167.81 L527.09,167.75 L527.50,167.70 L527.92,167.64 L528.32,167.58 L528.73,167.51 L529.12,167.44 L529.52,167.38 L529.91,167.34 L530.31,167.31 L530.70,167.30 L531.09,167.32 L531.48,167.36 L531.87,167.42 L532.25,167.49 L532.63,167.57 L533.02,167.65 L533.41,167.73 L533.80,167.80 L534.19,167.88 L534.57,167.97 L534.96,168.06 L535.34,168.16 L535.74,168.24 L536.14,168.32 L536.56,168.37 L537.00,168.40 L537.46,168.40 L537.94,168.37 L538.44,168.33 L538.95,168.27 L539.46,168.20 L539.98,168.13 L540.49,168.06 L541.00,168.00 L541.50,167.94 L542.01,167.88 L542.52,167.82 L543.02,167.75 L543.53,167.68 L544.03,167.62 L544.52,167.56 L545.00,167.50 L545.47,167.44 L545.93,167.38 L546.38,167.33 L546.83,167.27 L547.27,167.22 L547.72,167.17 L548.16,167.13 L548.60,167.10 L549.04,167.09 L549.48,167.09 L549.92,167.11 L550.36,167.12 L550.80,167.14 L551.23,167.15 L551.67,167.14 L552.10,167.10 L552.53,167.04 L552.95,166.96 L553.37,166.86 L553.79,166.76 L554.21,166.64 L554.63,166.53 L555.06,166.41 L555.50,166.30 L555.95,166.18 L556.41,166.05 L556.88,165.91 L557.36,165.77 L557.83,165.64 L558.30,165.53 L558.75,165.45 L559.20,165.40 L559.63,165.39 L560.04,165.42 L560.44,165.48 L560.84,165.56 L561.24,165.64 L561.65,165.74 L562.07,165.82 L562.50,165.90 L562.95,165.98 L563.41,166.07 L563.88,166.17 L564.35,166.28 L564.83,166.37 L565.32,166.44 L565.81,166.49 L566.30,166.50 L566.80,166.49 L567.31,166.47 L567.82,166.44 L568.34,166.39 L568.86,166.30 L569.37,166.18 L569.89,166.02 L570.40,165.80 L570.91,165.51 L571.42,165.16 L571.92,164.75 L572.43,164.31 L572.93,163.86 L573.43,163.41 L573.92,162.98 L574.40,162.60 L574.88,162.23 L575.36,161.83 L575.85,161.44 L576.32,161.06 L576.78,160.71 L577.21,160.43 L577.62,160.22 L578.00,160.10 L578.34,160.10 L578.65,160.21 L578.94,160.40 L579.20,160.64 L579.44,160.91 L579.67,161.18 L579.89,161.42 L580.10,161.60 L580.29,161.74 L580.47,161.88 L580.62,162.01 L580.76,162.13 L580.90,162.23 L581.03,162.31 L581.16,162.37 L581.30,162.40 L581.45,162.38 L581.62,162.32 L581.80,162.22 L581.97,162.11 L582.12,161.99 L582.25,161.89 L582.35,161.82 L582.40,161.80 L582.38,161.86 L582.29,162.01 L582.16,162.20 L582.00,162.41 L581.85,162.58 L581.73,162.67 L581.68,162.66 L581.70,162.50 L581.82,162.19 L582.00,161.78 L582.24,161.28 L582.51,160.69 L582.80,160.04 L583.09,159.33 L583.36,158.58 L583.60,157.80 L583.81,156.96 L584.01,156.03 L584.20,155.05 L584.39,154.01 L584.57,152.95 L584.75,151.88 L584.92,150.83 L585.10,149.80 L585.27,148.78 L585.44,147.75 L585.60,146.71 L585.77,145.67 L585.92,144.64 L586.08,143.63 L586.24,142.65 L586.40,141.70 L586.56,140.82 L586.72,140.00 L586.89,139.23 L587.05,138.47 L587.21,137.69 L587.36,136.87 L587.51,135.99 L587.65,135.00 L587.79,133.90 L587.92,132.71 L588.04,131.45 L588.17,130.14 L588.28,128.82 L588.39,127.51 L588.50,126.22 L588.60,125.00 L588.69,123.84 L588.77,122.73 L588.84,121.64 L588.91,120.56 L588.98,119.48 L589.04,118.37 L589.12,117.21 L589.20,116.00 L589.29,114.70 L589.39,113.33 L589.49,111.91 L589.60,110.47 L589.70,109.03 L589.81,107.62 L589.91,106.27 L590.00,105.00 L590.09,103.84 L590.18,102.77 L590.27,101.76 L590.36,100.78 L590.44,99.80 L590.52,98.78 L590.59,97.69 L590.65,96.50 L590.70,95.20 L590.74,93.80 L590.77,92.34 L590.80,90.84 L590.82,89.33 L590.85,87.84 L590.87,86.39 L590.90,85.00 L590.93,83.71 L590.96,82.51 L590.99,81.36 L591.02,80.22 L591.05,79.05 L591.08,77.82 L591.11,76.48 L591.15,75.00 L591.19,73.33 L591.24,71.48 L591.29,69.52 L591.35,67.50 L591.40,65.48 L591.45,63.52 L591.50,61.67 L591.55,60.00 L591.59,58.51 L591.63,57.15 L591.67,55.88 L591.71,54.69 L591.74,53.53 L591.78,52.38 L591.81,51.22 L591.85,50.00 L591.89,48.75 L591.92,47.50 L591.96,46.25 L592.00,45.00 L592.03,43.75 L592.07,42.50 L592.11,41.25 L592.15,40.00 L592.19,38.72 L592.24,37.39 L592.28,36.04 L592.32,34.71 L592.37,33.41 L592.41,32.17 L592.46,31.03 L592.50,30.00 L592.54,29.04 L592.58,28.10 L592.62,27.20 L592.65,26.39 L592.69,25.70 L592.73,25.17 L592.76,24.82 L592.80,24.70 L592.84,24.82 L592.87,25.17 L592.91,25.70 L592.95,26.39 L592.98,27.20 L593.02,28.10 L593.06,29.04 L593.10,30.00 L593.14,31.03 L593.19,32.17 L593.23,33.41 L593.27,34.71 L593.32,36.04 L593.36,37.39 L593.41,38.72 L593.45,40.00 L593.49,41.25 L593.53,42.50 L593.57,43.75 L593.60,45.00 L593.64,46.25 L593.68,47.50 L593.71,48.75 L593.75,50.00 L593.79,51.22 L593.82,52.38 L593.86,53.53 L593.89,54.69 L593.93,55.88 L593.97,57.15 L594.01,58.51 L594.05,60.00 L594.10,61.67 L594.15,63.52 L594.20,65.48 L594.25,67.50 L594.31,69.52 L594.36,71.48 L594.41,73.33 L594.45,75.00 L594.49,76.48 L594.52,77.82 L594.55,79.05 L594.58,80.22 L594.61,81.36 L594.64,82.51 L594.67,83.71 L594.70,85.00 L594.73,86.39 L594.75,87.84 L594.78,89.33 L594.80,90.84 L594.83,92.34 L594.86,93.80 L594.90,95.20 L594.95,96.50 L595.01,97.69 L595.08,98.78 L595.16,99.80 L595.24,100.78 L595.33,101.76 L595.42,102.77 L595.51,103.84 L595.60,105.00 L595.69,106.27 L595.79,107.62 L595.90,109.03 L596.00,110.47 L596.11,111.91 L596.21,113.33 L596.31,114.70 L596.40,116.00 L596.48,117.21 L596.56,118.37 L596.62,119.48 L596.69,120.56 L596.76,121.64 L596.83,122.73 L596.91,123.84 L597.00,125.00 L597.10,126.22 L597.21,127.51 L597.32,128.82 L597.43,130.14 L597.56,131.45 L597.68,132.71 L597.81,133.90 L597.95,135.00 L598.09,135.99 L598.24,136.87 L598.39,137.69 L598.55,138.47 L598.71,139.23 L598.88,140.00 L599.04,140.82 L599.20,141.70 L599.36,142.65 L599.52,143.63 L599.68,144.64 L599.83,145.67 L600.00,146.71 L600.16,147.75 L600.33,148.78 L600.50,149.80 L600.68,150.83 L600.85,151.88 L601.03,152.95 L601.21,154.01 L601.40,155.05 L601.59,156.03 L601.79,156.96 L602.00,157.80 L602.23,158.58 L602.50,159.32 L602.78,160.02 L603.07,160.66 L603.34,161.23 L603.58,161.74 L603.77,162.16 L603.90,162.50 L603.95,162.72 L603.92,162.81 L603.83,162.81 L603.72,162.75 L603.61,162.65 L603.52,162.54 L603.47,162.45 L603.50,162.40 L603.59,162.40 L603.72,162.42 L603.88,162.45 L604.06,162.48 L604.27,162.49 L604.50,162.47 L604.75,162.41 L605.00,162.30 L605.27,162.10 L605.55,161.79 L605.86,161.44 L606.18,161.06 L606.52,160.70 L606.87,160.39 L607.23,160.18 L607.60,160.10 L607.98,160.16 L608.37,160.31 L608.78,160.55 L609.19,160.85 L609.62,161.19 L610.07,161.56 L610.53,161.94 L611.00,162.30 L611.49,162.68 L612.01,163.11 L612.54,163.57 L613.08,164.04 L613.63,164.51 L614.19,164.96 L614.75,165.36 L615.30,165.70 L615.86,165.99 L616.44,166.26 L617.03,166.51 L617.62,166.72 L618.20,166.90 L618.76,167.04 L619.30,167.14 L619.80,167.20 L620.26,167.20 L620.68,167.14 L621.08,167.04 L621.46,166.90 L621.84,166.74 L622.21,166.58 L622.59,166.43 L623.00,166.30 L623.43,166.18 L623.87,166.03 L624.31,165.88 L624.76,165.74 L625.21,165.61 L625.65,165.50 L626.08,165.43 L626.50,165.40 L626.90,165.43 L627.28,165.50 L627.66,165.61 L628.02,165.74 L628.39,165.88 L628.75,166.03 L629.12,166.18 L629.50,166.30 L629.88,166.42 L630.25,166.54 L630.62,166.67 L630.99,166.80 L631.37,166.92 L631.76,167.03 L632.17,167.13 L632.60,167.20 L633.05,167.25 L633.52,167.27 L633.99,167.28 L634.49,167.27 L634.99,167.27 L635.52,167.27 L636.05,167.27 L636.60,167.30 L637.17,167.34 L637.76,167.40 L638.37,167.46 L638.99,167.53 L639.62,167.60 L640.25,167.67 L640.88,167.74 L641.50,167.80 L642.12,167.86 L642.74,167.93 L643.37,168.00 L644.00,168.06 L644.62,168.12 L645.23,168.17 L645.83,168.19 L646.40,168.20 L646.95,168.18 L647.48,168.14 L648.00,168.07 L648.51,168.00 L649.00,167.92 L649.50,167.84 L650.00,167.76 L650.50,167.70 L651.00,167.64 L651.51,167.57 L652.01,167.50 L652.51,167.43 L653.00,167.37 L653.50,167.33 L654.00,167.30 L654.50,167.30 L654.98,167.33 L655.44,167.39 L655.89,167.47 L656.34,167.56 L656.82,167.66 L657.32,167.75 L657.88,167.84 L658.50,167.90 L659.17,167.95 L659.87,167.99 L660.60,168.02 L661.38,168.04 L662.20,168.06 L663.07,168.08 L664.00,168.09 L665.00,168.10 L666.09,168.10 L667.30,168.10 L668.57,168.08 L669.89,168.07 L671.23,168.05 L672.54,168.03 L673.81,168.01 L675.00,168.00 L676.17,167.99 L677.37,167.97 L678.57,167.96 L679.73,167.94 L680.80,167.93 L681.77,167.92 L682.58,167.91 L683.20,167.90" stroke="#A2142F" stroke-width="1.9" fill="none" stroke-linejoin="round"/>
<path d="M503.00,170.10 L503.53,170.10 L504.23,170.10 L505.07,170.10 L506.00,170.10 L506.99,170.10 L508.02,170.10 L509.03,170.10 L510.00,170.10 L510.97,170.10 L511.98,170.10 L513.01,170.10 L514.06,170.09 L515.10,170.09 L516.12,170.09 L517.09,170.10 L518.00,170.10 L518.86,170.11 L519.70,170.11 L520.51,170.12 L521.28,170.12 L522.02,170.14 L522.72,170.15 L523.38,170.17 L524.00,170.20 L524.56,170.23 L525.06,170.27 L525.51,170.32 L525.93,170.37 L526.32,170.42 L526.70,170.48 L527.09,170.54 L527.50,170.60 L527.92,170.67 L528.32,170.76 L528.73,170.86 L529.12,170.96 L529.52,171.05 L529.91,171.13 L530.31,171.18 L530.70,171.20 L531.09,171.18 L531.48,171.13 L531.87,171.06 L532.25,170.97 L532.63,170.88 L533.02,170.78 L533.41,170.68 L533.80,170.60 L534.19,170.52 L534.57,170.43 L534.96,170.33 L535.34,170.24 L535.74,170.15 L536.14,170.08 L536.56,170.03 L537.00,170.00 L537.46,170.00 L537.94,170.04 L538.44,170.09 L538.95,170.16 L539.46,170.24 L539.98,170.30 L540.49,170.36 L541.00,170.40 L541.51,170.42 L542.02,170.42 L542.54,170.42 L543.06,170.41 L543.57,170.40 L544.07,170.39 L544.55,170.39 L545.00,170.40 L545.42,170.43 L545.79,170.46 L546.15,170.50 L546.49,170.55 L546.84,170.60 L547.20,170.64 L547.58,170.67 L548.00,170.70 L548.46,170.71 L548.96,170.71 L549.49,170.70 L550.03,170.68 L550.57,170.67 L551.10,170.66 L551.61,170.67 L552.10,170.70 L552.56,170.75 L552.99,170.81 L553.41,170.88 L553.83,170.96 L554.23,171.04 L554.65,171.13 L555.07,171.22 L555.50,171.30 L555.95,171.39 L556.41,171.50 L556.88,171.61 L557.36,171.72 L557.83,171.82 L558.30,171.91 L558.75,171.97 L559.20,172.00 L559.64,171.99 L560.06,171.96 L560.49,171.90 L560.91,171.82 L561.32,171.73 L561.72,171.65 L562.11,171.57 L562.50,171.50 L562.86,171.44 L563.18,171.36 L563.49,171.28 L563.79,171.21 L564.10,171.14 L564.45,171.10 L564.84,171.08 L565.30,171.10 L565.84,171.15 L566.47,171.24 L567.15,171.34 L567.86,171.47 L568.57,171.61 L569.25,171.77 L569.87,171.93 L570.40,172.10 L570.85,172.28 L571.23,172.47 L571.56,172.67 L571.86,172.89 L572.14,173.11 L572.42,173.34 L572.70,173.57 L573.00,173.80 L573.32,174.05 L573.63,174.34 L573.94,174.64 L574.26,174.94 L574.57,175.23 L574.88,175.48 L575.19,175.67 L575.50,175.80 L575.81,175.85 L576.11,175.85 L576.42,175.80 L576.72,175.71 L577.03,175.59 L577.34,175.46 L577.66,175.33 L578.00,175.20 L578.36,175.05 L578.75,174.85 L579.15,174.63 L579.56,174.41 L579.96,174.20 L580.34,174.03 L580.69,173.92 L581.00,173.90 L581.27,173.96 L581.50,174.07 L581.71,174.23 L581.89,174.44 L582.07,174.69 L582.24,174.97 L582.41,175.28 L582.60,175.60 L582.79,175.96 L582.99,176.38 L583.18,176.83 L583.37,177.31 L583.56,177.80 L583.74,178.28 L583.92,178.76 L584.10,179.20 L584.27,179.61 L584.44,180.01 L584.60,180.39 L584.76,180.77 L584.91,181.15 L585.07,181.55 L585.23,181.96 L585.40,182.40 L585.57,182.87 L585.73,183.37 L585.90,183.88 L586.07,184.41 L586.24,184.94 L586.42,185.47 L586.61,185.99 L586.80,186.50 L587.01,187.00 L587.22,187.51 L587.44,188.02 L587.67,188.52 L587.90,189.02 L588.13,189.50 L588.37,189.96 L588.60,190.40 L588.83,190.82 L589.06,191.23 L589.28,191.62 L589.51,191.99 L589.75,192.35 L589.99,192.69 L590.24,193.01 L590.50,193.30 L590.78,193.58 L591.06,193.87 L591.36,194.14 L591.67,194.38 L591.98,194.59 L592.29,194.76 L592.60,194.86 L592.90,194.90 L593.20,194.86 L593.51,194.76 L593.82,194.59 L594.12,194.38 L594.43,194.14 L594.73,193.87 L595.02,193.58 L595.30,193.30 L595.57,193.01 L595.83,192.69 L596.09,192.35 L596.34,191.99 L596.58,191.62 L596.82,191.23 L597.06,190.82 L597.30,190.40 L597.54,189.96 L597.77,189.50 L598.00,189.02 L598.23,188.53 L598.46,188.02 L598.68,187.51 L598.89,187.00 L599.10,186.50 L599.30,185.99 L599.50,185.47 L599.69,184.95 L599.88,184.42 L600.06,183.90 L600.24,183.38 L600.42,182.88 L600.60,182.40 L600.77,181.95 L600.93,181.54 L601.08,181.14 L601.23,180.75 L601.39,180.35 L601.57,179.94 L601.77,179.49 L602.00,179.00 L602.27,178.41 L602.57,177.72 L602.90,176.98 L603.24,176.23 L603.59,175.51 L603.94,174.89 L604.28,174.40 L604.60,174.10 L604.91,174.01 L605.22,174.11 L605.52,174.34 L605.83,174.66 L606.12,175.02 L606.42,175.38 L606.71,175.69 L607.00,175.90 L607.28,176.05 L607.55,176.20 L607.81,176.34 L608.07,176.45 L608.34,176.53 L608.61,176.58 L608.90,176.57 L609.20,176.50 L609.52,176.36 L609.85,176.15 L610.18,175.88 L610.53,175.57 L610.89,175.25 L611.25,174.92 L611.62,174.59 L612.00,174.30 L612.38,174.02 L612.76,173.73 L613.15,173.44 L613.54,173.15 L613.95,172.87 L614.38,172.59 L614.83,172.34 L615.30,172.10 L615.82,171.87 L616.38,171.65 L616.98,171.43 L617.59,171.22 L618.19,171.04 L618.77,170.89 L619.32,170.77 L619.80,170.70 L620.22,170.68 L620.60,170.70 L620.94,170.76 L621.25,170.85 L621.55,170.96 L621.85,171.07 L622.17,171.19 L622.50,171.30 L622.85,171.42 L623.22,171.57 L623.59,171.73 L623.96,171.89 L624.33,172.05 L624.69,172.17 L625.05,172.26 L625.40,172.30 L625.73,172.28 L626.05,172.21 L626.36,172.10 L626.66,171.97 L626.97,171.82 L627.29,171.67 L627.63,171.53 L628.00,171.40 L628.40,171.28 L628.84,171.15 L629.29,171.02 L629.76,170.89 L630.22,170.76 L630.67,170.65 L631.10,170.56 L631.50,170.50 L631.85,170.46 L632.17,170.44 L632.47,170.44 L632.75,170.46 L633.03,170.48 L633.33,170.52 L633.65,170.56 L634.00,170.60 L634.39,170.66 L634.79,170.75 L635.22,170.85 L635.66,170.96 L636.11,171.06 L636.57,171.14 L637.03,171.19 L637.50,171.20 L637.97,171.16 L638.44,171.07 L638.92,170.96 L639.41,170.82 L639.91,170.68 L640.43,170.54 L640.95,170.41 L641.50,170.30 L642.07,170.20 L642.68,170.10 L643.31,170.00 L643.94,169.90 L644.58,169.82 L645.21,169.75 L645.82,169.71 L646.40,169.70 L646.95,169.73 L647.48,169.79 L648.00,169.87 L648.51,169.97 L649.00,170.09 L649.50,170.20 L650.00,170.31 L650.50,170.40 L651.00,170.49 L651.51,170.59 L652.01,170.69 L652.51,170.78 L653.00,170.87 L653.50,170.94 L654.00,170.98 L654.50,171.00 L654.98,170.98 L655.44,170.93 L655.89,170.85 L656.34,170.76 L656.82,170.66 L657.32,170.56 L657.88,170.47 L658.50,170.40 L659.17,170.35 L659.87,170.29 L660.60,170.25 L661.38,170.21 L662.20,170.17 L663.07,170.14 L664.00,170.12 L665.00,170.10 L666.09,170.09 L667.30,170.10 L668.57,170.12 L669.89,170.14 L671.23,170.16 L672.54,170.18 L673.81,170.19 L675.00,170.20 L676.17,170.20 L677.37,170.19 L678.57,170.17 L679.73,170.16 L680.80,170.14 L681.77,170.12 L682.58,170.11 L683.20,170.10" stroke="#0072BD" stroke-width="1.9" fill="none" stroke-linejoin="round"/>
<path d="M122.6,110.3H140.7" stroke="#A2142F" stroke-width="1.2" stroke-dasharray="3.5 3.27" fill="none"/>
<path d="M91.9,157.1H169.6" stroke="#A2142F" stroke-width="1.2" stroke-dasharray="3.5 3.27" fill="none"/>
<path d="M109.2,184.4H153.2" stroke="#0072BD" stroke-width="1.2" stroke-dasharray="3.5 3.27" fill="none"/>
<path d="M358.1,127.2H366.5" stroke="#A2142F" stroke-width="1.2" stroke-dasharray="3.5 3.27" fill="none"/>
<path d="M339.7,147.7H383.8" stroke="#A2142F" stroke-width="1.2" stroke-dasharray="3.5 3.27" fill="none"/>
<path d="M351.1,178.5H373" stroke="#0072BD" stroke-width="1.2" stroke-dasharray="3.5 3.27" fill="none"/>
<path d="M591,96.5H595" stroke="#A2142F" stroke-width="1.2" stroke-dasharray="3.5 3.27" fill="none"/>
<path d="M578,160.2H607.6" stroke="#A2142F" stroke-width="1.2" stroke-dasharray="3.5 3.27" fill="none"/>
<path d="M585.4,182.5H600.6" stroke="#0072BD" stroke-width="1.2" stroke-dasharray="3.5 3.27" fill="none"/>
<text x="146" y="96.7" class="a">FWHM<tspan class="s" dy="-6.3">+</tspan></text>
<text x="146" y="110.6" class="a">202 µm</text>
<text x="167.4" y="137.4" class="a">DSLM</text>
<text x="167.4" y="151.4" class="a">875 µm</text>
<text x="161" y="189.3" class="a">FWHM<tspan class="s" dy="-6.3">-</tspan></text>
<text x="161" y="203.5" class="a">502 µm</text>
<text x="371" y="106.1" class="a">FWHM<tspan class="s" dy="-6.3">+</tspan></text>
<text x="371" y="120" class="a">92.3 µm</text>
<text x="395.4" y="142.9" class="a">DSLM</text>
<text x="395.4" y="157" class="a">500 µm</text>
<text x="390.9" y="189.8" class="a">FWHM<tspan class="s" dy="-6.3">-</tspan></text>
<text x="390.9" y="204.1" class="a">257 µm</text>
<text x="602.7" y="94.8" class="a">FWHM<tspan class="s" dy="-6.3">+</tspan></text>
<text x="602.7" y="109.5" class="a">58.8 µm</text>
<text x="610.8" y="141.6" class="a">DSLM</text>
<text x="610.8" y="155.8" class="a">320 µm</text>
<text x="608.4" y="189.2" class="a">FWHM<tspan class="s" dy="-6.3">-</tspan></text>
<text x="608.4" y="203.7" class="a">182 µm</text>
</svg>
</body></html>
